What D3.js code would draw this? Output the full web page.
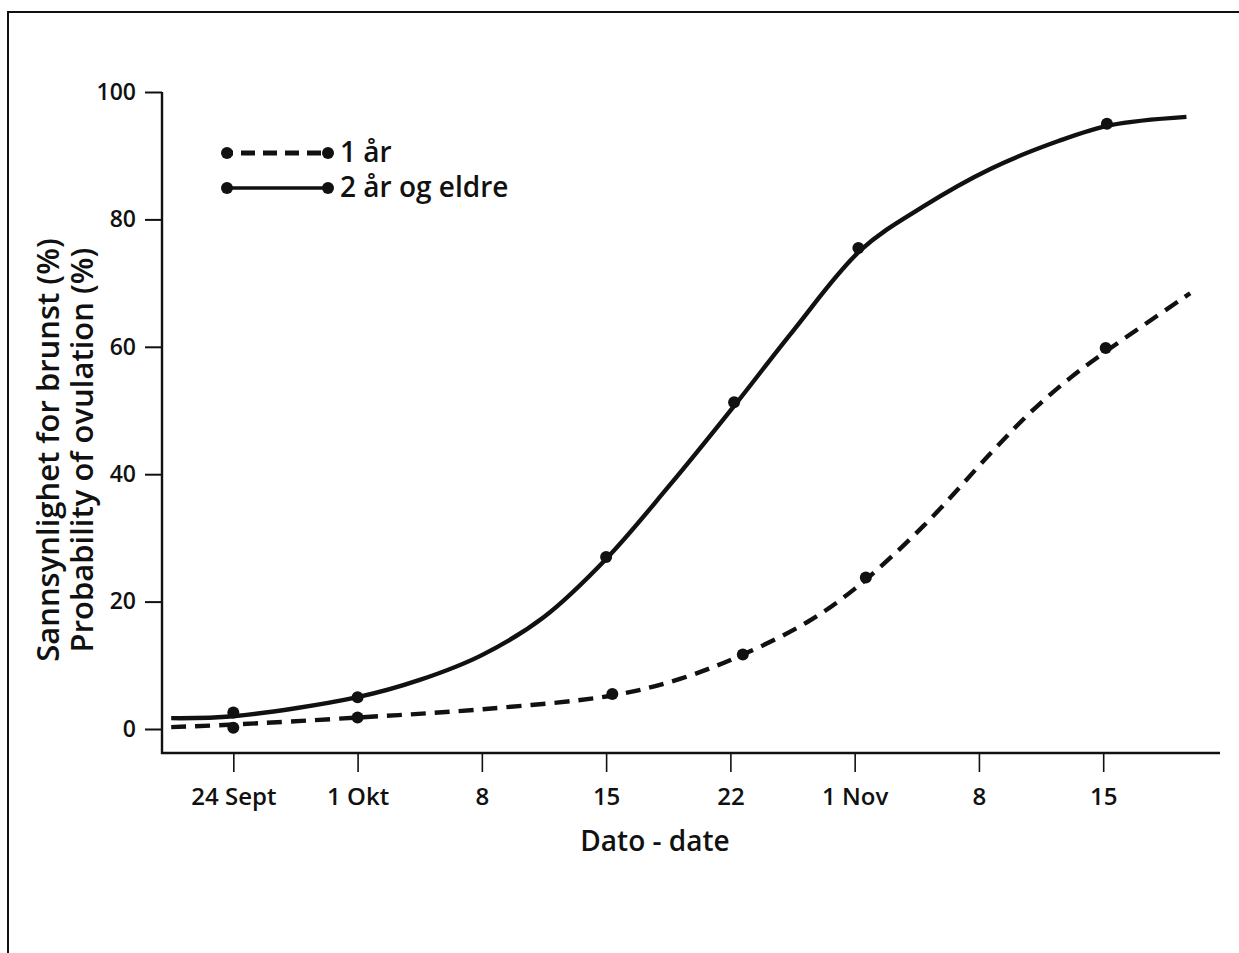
<!DOCTYPE html>
<html>
<head>
<meta charset="utf-8">
<script src="https://cdn.jsdelivr.net/npm/d3@7"></script>
<style>
	body { margin: 0; background: #fff; }
	svg text { font-family: "Open Sans", "DejaVu Sans", sans-serif; fill: #111; font-weight: 600; }
</style>
</head>
<body>
<div id="chart"></div>
<script>
// x values are in "tick index" units: 0 = 24 Sept, 1 = 1 Okt, ... 7 = 15 Nov
const tickLabels = ['24 Sept', '1 Okt', '8', '15', '22', '1 Nov', '8', '15'];
const tickIndex = [0, 1, 2, 3, 4, 5, 6, 7];
const yTicks = [0, 20, 40, 60, 80, 100];

const seriesNames = ['1 år', '2 år og eldre'];

// fitted curve, 1 år (dashed)
const curve1x = [-0.50, 0.00, 1.00, 2.00, 3.06, 3.60, 4.09, 4.62, 5.00, 5.55, 6.10, 6.42, 6.74, 7.06, 7.70];
const curve1y = [0.3, 0.7, 1.8, 3.1, 5.3, 7.9, 11.6, 16.8, 22.0, 31.8, 43.4, 49.8, 55.2, 59.8, 68.4];
// observed points, 1 år
const obs1x = [0.00, 1.00, 3.05, 4.10, 5.09, 7.02];
const obs1y = [0.2, 1.8, 5.5, 11.7, 23.8, 59.8];

// fitted curve, 2 år og eldre (solid)
const curve2x = [-0.50, 0.00, 1.00, 1.50, 2.00, 2.50, 3.00, 3.50, 4.05, 4.50, 5.05, 5.55, 6.10, 6.64, 7.06, 7.67];
const curve2y = [1.7, 2.0, 5.0, 7.7, 11.6, 17.6, 26.7, 38.0, 51.2, 62.4, 75.2, 82.0, 88.0, 92.3, 94.8, 96.1];
// observed points, 2 år og eldre
const obs2x = [0.00, 1.00, 3.00, 4.03, 5.03, 7.03];
const obs2y = [2.6, 5.0, 27.0, 51.3, 75.5, 95.0];

const W = 1239;
const H = 953;

const scaleX = d3.scaleLinear().domain([-0.59, 7.94]).range([160, 1220]);
const scaleY = d3.scaleLinear().domain([0, 100]).range([729, 92]);
const axisBase = 753;
const axisLeftX = 162;

const svg = d3.select('#chart').append('svg')
	.attr('width', W)
	.attr('height', H);

//frame of the scanned figure
svg.append('path')
	.attr('d', `M8,${H} L8,12 L${W},12`)
	.style('fill', 'none')
	.style('stroke', '#111')
	.style('stroke-width', 2);

//axes
const axisX = d3.axisBottom(scaleX)
	.tickValues(tickIndex)
	.tickFormat((d, i) => tickLabels[i])
	.tickSize(19)
	.tickPadding(16);
const axisY = d3.axisLeft(scaleY)
	.tickValues(yTicks)
	.tickSize(17)
	.tickPadding(9);

const gx = svg.append('g')
	.attr('transform', `translate(0, ${axisBase})`)
	.call(axisX);
gx.select('.domain').remove();
gx.selectAll('line').style('stroke', '#111').style('stroke-width', 1.6);
gx.selectAll('text').style('font-size', '24px');

const gy = svg.append('g')
	.attr('transform', `translate(${axisLeftX}, 0)`)
	.call(axisY);
gy.select('.domain').remove();
gy.selectAll('line').style('stroke', '#111').style('stroke-width', 2);
gy.selectAll('text').style('font-size', '23px');

svg.append('path')
	.attr('d', `M${axisLeftX},${scaleY(100)} L${axisLeftX},${axisBase} L${scaleX.range()[1]},${axisBase}`)
	.style('fill', 'none')
	.style('stroke', '#111')
	.style('stroke-width', 2.4);

//axis titles
svg.append('text')
	.attr('x', 655)
	.attr('y', 851)
	.attr('text-anchor', 'middle')
	.style('font-size', '28px')
	.text('Dato - date');

const yTitle = svg.append('g')
	.attr('transform', 'translate(0, 450) rotate(-90)');
yTitle.append('text')
	.attr('x', 0).attr('y', 59)
	.attr('text-anchor', 'middle')
	.style('font-size', '31px')
	.text('Sannsynlighet for brunst (%)');
yTitle.append('text')
	.attr('x', 0).attr('y', 93)
	.attr('text-anchor', 'middle')
	.style('font-size', '31px')
	.text('Probability of ovulation (%)');

//curves
const lineGenerator = d3.line()
	.x(d => scaleX(d[0]))
	.y(d => scaleY(d[1]))
	.curve(d3.curveCatmullRom.alpha(0.5));

const curves = [
	{x: curve1x, y: curve1y, dash: '15,9', ox: obs1x, oy: obs1y},
	{x: curve2x, y: curve2y, dash: null, ox: obs2x, oy: obs2y}
];

const plot = svg.append('g').attr('class', 'plot');

curves.forEach(c => {
	plot.append('path')
		.datum(d3.zip(c.x, c.y))
		.attr('d', lineGenerator)
		.style('fill', 'none')
		.style('stroke', '#111')
		.style('stroke-width', 4.4)
		.style('stroke-dasharray', c.dash);
	plot.selectAll(null)
		.data(d3.zip(c.ox, c.oy))
		.enter()
		.append('circle')
		.attr('cx', d => scaleX(d[0]))
		.attr('cy', d => scaleY(d[1]))
		.attr('r', 6)
		.style('fill', '#111');
});

//legend
const legend = svg.append('g').attr('transform', 'translate(227, 153)');
seriesNames.forEach((name, i) => {
	const row = legend.append('g').attr('transform', `translate(0, ${i * 35})`);
	row.append('line')
		.attr('x1', 0).attr('x2', 101)
		.style('stroke', '#111')
		.style('stroke-width', i === 0 ? 5 : 3.5)
		.style('stroke-dasharray', i === 0 ? '14,8' : null)
		.attr('stroke-dashoffset', i === 0 ? -14 : 0);
	row.selectAll('circle')
		.data([0, 101])
		.enter()
		.append('circle')
		.attr('cx', d => d)
		.attr('cy', 0)
		.attr('r', 6)
		.style('fill', '#111');
	row.append('text')
		.attr('x', 113)
		.attr('y', 9)
		.style('font-size', '28px')
		.text(name);
});
</script>
</body>
</html>
